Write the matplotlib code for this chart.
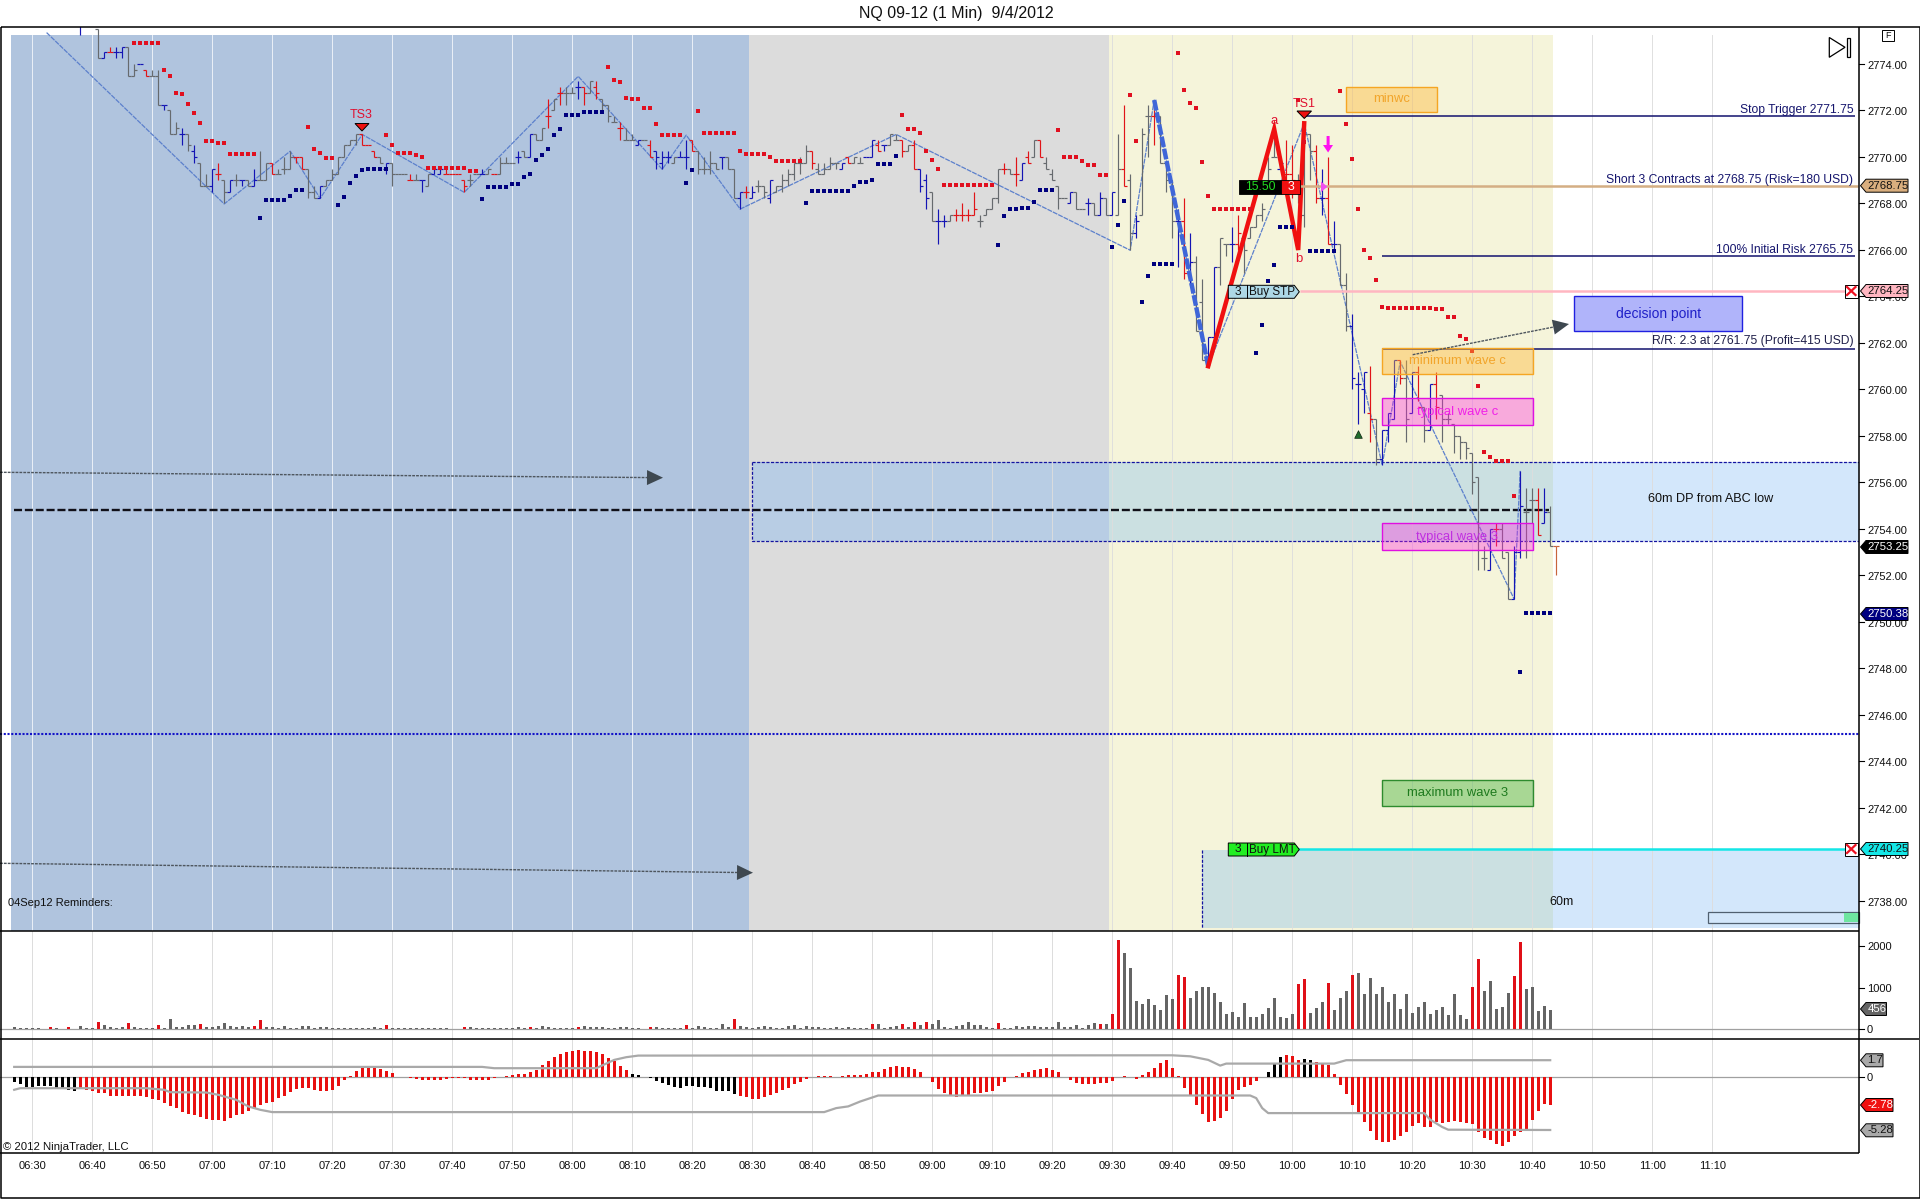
import numpy as np
import matplotlib
matplotlib.use("Agg")
import matplotlib.pyplot as plt
from matplotlib.collections import LineCollection
from matplotlib.patches import Rectangle, Polygon

plt.rcParams['font.family'] = ['Liberation Sans', 'DejaVu Sans']

PRICE_BASE = 2700
MIN0 = 390  # 06:30

tick_labels = ['06:30','06:40','06:50','07:00','07:10','07:20','07:30','07:40','07:50','08:00','08:10','08:20',
               '08:30','08:40','08:50','09:00','09:10','09:20','09:30','09:40','09:50','10:00','10:10','10:20',
               '10:30','10:40','10:50','11:00','11:10']
price_ticks = [2774,2772,2770,2768,2766,2764,2762,2760,2758,2756,2754,2752,2750,2748,2746,2744,2742,2740,2738]

bar_k = [8] + list(range(11, 255))
bar_open = [76,
 75.5,74.25,74.5,74.5,74.5,74.75,73.5,74,73.75,73.5,
 73.5,72.25,72,71,71,71,70.25,69.75,68.75,68.75,
 69.25,69,68.5,69,69,69,68.75,69,69,69.75,
 69.25,69.5,69.5,70,70,69.5,68.5,68.25,68.75,69,
 69.25,70,70.5,70.75,71,70.5,70.25,70,69.5,69.75,
 69.25,69.25,69,69,69,68.75,69.25,69.25,69.25,69.25,
 69.25,69,69,69.25,69.25,69.25,69.25,69.25,69.75,69.75,
 70,70.25,70,71,70.75,71.75,72,72.75,72.75,72.75,
 73,73,72.75,73,72.5,72.25,71.5,71.25,70.75,70.75,
 70.5,70.75,70.5,70.25,69.75,70,69.75,70,70,70.75,
 70.25,69.5,69.5,69.75,70,70,69.5,68.25,68.5,68.25,
 68.75,68.75,68.25,68.5,68.75,69,69.25,69.75,69.75,70.25,
 69.5,69.25,69.5,69.75,69.5,70,69.75,69.75,70,70,
 70.5,70.5,70.5,70.75,70.75,70.25,70.5,69.5,69,68.5,
 67.25,67.25,67.25,67.5,67.5,67.5,67.5,67.25,67.5,67.75,
 68.25,69.5,69.5,69.25,69,70,70,70.75,69.75,69.25,
 68.75,68.25,68,68.5,67.75,68,68,67.5,68.25,67.5,
 67.5,69.5,69,66.75,67.5,71.75,71.75,71.75,69.75,69,
 67.25,67.25,65,65.5,63.75,61.25,62.25,65.25,66.25,66.25,
 66.25,66.5,66.5,67,67.5,68.75,70,69.5,69.25,69.25,
 68.5,67.5,71,70.25,68.25,68.25,66.25,66.25,64.5,62.75,
 60.25,60,59,58.75,57,58.25,58.75,61.25,60.5,59,
 60.75,59.25,58.25,60.25,59.75,58.75,58.5,58,57.75,57.25,
 56.25,52.75,52.25,54,54,53,51,53,54.75,55.25,
 55.25,54.25,54.75,53.25]
bar_high = [76,
 75.5,74.5,74.75,74.75,74.75,74.75,74,74,73.75,73.75,
 73.75,72.25,72,71.5,71.25,71,70.5,69.75,69.25,69.5,
 69.75,69,69,69.25,69,69,69.5,70.25,69.75,69.75,
 69.5,70,70.25,70,70,69.5,68.75,68.75,69,69.5,
 70,70.5,70.75,71,71,70.5,70.25,70,69.75,69.75,
 69.25,69.25,69.25,69.25,69,69.25,69.5,69.5,69.5,69.25,
 69.25,69,69.25,69.25,69.5,69.5,69.25,70,70,69.75,
 70.25,70.25,71,71,71.25,72.5,72.5,73,73,73,
 73.25,73,73.25,73.25,72.5,72.25,71.75,71.5,71.25,71,
 70.75,70.75,70.75,70.25,70.25,70.25,70,70.25,70.75,70.75,
 70.25,70,70.25,69.75,70,70,69.5,68.5,68.75,68.75,
 69,68.75,69,68.75,69.25,69.5,69.75,70,70.5,70.25,
 69.75,69.75,70,69.75,69.75,70,70,70,70,70.75,
 70.75,70.5,71,71,70.75,70.5,70.75,69.5,69.25,68.5,
 67.75,67.5,67.5,67.75,68,67.75,68.5,67.5,67.75,68.25,
 69.5,69.75,69.5,70,69.75,70.25,70.75,70.75,70,69.5,
 68.75,68.25,68.5,68.5,67.75,68.25,68,68.5,68.25,68.5,
 71,72.25,69.25,67.5,71.25,72.25,72.25,71.75,69.75,69,
 67.75,68.25,66.75,65.75,64.75,62.25,65.25,66.5,66.25,67,
 67.5,66.5,67,67.5,68,70,71.25,70,70.75,70.5,
 69.25,71,71,70.5,69.5,70,67.25,66.25,65,63.25,
 60.75,60.75,61,58.75,58.25,59,61.25,61.25,61.25,60.75,
 61,59.25,60.25,60.75,59.75,59,58.5,58,57.75,57.25,
 56.25,53.25,54,54.25,54.25,53,53.25,56.5,55.75,55.75,
 55.75,55.75,55,53.25]
bar_low = [75.25,
 74.25,74.25,74.5,74.25,74.25,73.5,73.5,74,73.5,73.5,
 72.25,72,71,71,70.5,70.25,69.75,68.75,68.75,68.5,
 69,68,68.5,68.75,68.75,68.75,68.75,69,69,69.25,
 69.25,69.25,69.5,69.75,69.5,68.25,68.25,68.25,68.75,69,
 69.25,70,70.5,70.5,70.5,70.5,70,69.75,69.25,68.75,
 69.25,69.25,69,69,68.5,68.75,69.25,69.25,69.25,69.25,
 69.25,68.5,68.75,69.25,69.25,69.25,69.25,69.25,69.75,69.75,
 69.75,70,70,70.75,70.75,71.25,72,72.25,72.25,72.75,
 72.5,72.25,72.75,72.5,72,71.5,71.5,70.75,70.75,70.75,
 70.5,70.75,70,69.5,69.5,69.75,69.75,70,69.5,70.25,
 69.25,69.25,69.25,69.5,69.5,69.5,68.25,67.75,68.25,68.25,
 68.5,68.25,68,68.5,68.5,68.75,69,69.25,69.75,69.5,
 69.25,69.25,69.5,69.5,69.5,69.75,69.75,69.75,70,70,
 70.25,70.25,70.5,70.75,70,70.25,69.5,68.5,67.75,67.25,
 66.25,67,67.25,67.25,67.25,67.25,67.5,67,67.5,67.75,
 68,69.25,69.25,68.75,69,69.75,70,70,69.5,69,
 67.75,68.25,68,67.75,67.75,67.5,67.5,67.5,67.5,67.5,
 67.5,68.75,66,66.5,67.5,70,70.5,69.75,68.5,66.5,
 65.25,64.75,64.5,62.5,61.25,61,62.25,64.5,65.75,65.5,
 66,65,66.5,67,67.25,68.75,70,69.5,69,68.25,
 68,67,69,68,67.5,66.25,66,64.5,62.5,60,
 58.5,59,57.75,56.75,56.75,57.75,58.75,60.25,57.75,59,
 59.5,57.75,58.25,58.75,57.75,58.5,57.25,57,57,55.5,
 52.25,52.25,52.25,53.25,52.75,51,51,52.75,52.75,54.25,
 53.75,54.25,53.25,52]
bar_close = [76,
 74.25,74.5,74.5,74.5,74.75,73.5,73.75,74,73.5,73.5,
 72.25,72.25,71,71.25,71,70.5,70,68.75,68.75,69.5,
 69.25,68.5,69,69,69,68.75,69,69,69.75,69.25,
 69.25,69.5,70,70,69.5,68.5,68.25,68.75,69,69.25,
 70,70.5,70.75,71,70.5,70.5,70,69.75,69.75,69.25,
 69.25,69.25,69,69,69,69.25,69.5,69.5,69.25,69.25,
 69.25,68.75,69,69.25,69.25,69.5,69.25,69.75,69.75,69.75,
 70,70,71,70.75,71.25,71.75,72.5,72.75,72.75,72.75,
 73,72.75,73.25,72.75,72.25,71.75,71.5,71.25,70.75,70.75,
 70.75,70.75,70,70,70,70,70,70,70,70.25,
 69.5,69.5,69.75,69.5,70,69.5,68.25,68.5,68.5,68.5,
 68.75,68.5,69,68.75,69,69.25,69.75,69.75,70.25,69.75,
 69.25,69.5,69.75,69.75,69.75,69.75,70,69.75,70,70.75,
 70.25,70.5,71,70.75,70.25,70.5,69.5,68.75,68.25,67.25,
 67.25,67.25,67.5,67.5,67.5,67.5,67.75,67.25,67.75,68.25,
 69.5,69.5,69.25,69.25,69.75,69.75,70.75,70,69.5,69,
 68.25,68.25,68.5,67.75,67.75,68,67.5,68.25,67.5,68.5,
 69.5,68.75,66.75,67.25,71,71.75,71.75,69.75,69,67.25,
 67.25,65,65.5,62.5,61.25,62.25,65.25,66.5,66.25,66.25,
 66.75,66,67,67.5,67.75,69.5,70,69.75,69.25,69,
 68.5,71,70.25,68.25,68.25,66.25,66.25,64.5,62.75,60.5,
 60.25,60.75,58.75,57,58.25,59,61.25,60.5,58.75,60.75,
 59.25,58.25,60.25,59.25,58.75,58.75,58,57.75,57.5,56,
 54.25,52.75,54,54,52.75,51,53,55,54.75,55.25,
 53.75,54.75,53.25,53.25]
bar_kind = list('b' + 'gbrbbggbrg' 'gbggbgbggb' 'rgbgbgbggr' 'gggrrggbgg' 'ggggrrrgbg' 'ggrgbgbbrr'
                'rrggbgrggg' 'bgbggrgrgg' 'brgrgggrgg' 'bgrbbbgbbr' 'ggggbggbrb' 'ggbggggggr'
                'ggggbrggbb' 'rbggrgrbbg' 'bbgrrrrggg' 'grgrbrgrgg' 'ggbggbgbgb' 'grgbggrggg'
                'brbggbbggb' 'rggggggbrr' 'gggrbrbggb' 'bbrgbbbrgb' 'rgbrgggggg' 'ggbrggbbgg' 'rbgo')

sar_red_k = [17,18,19,20,21,22,23,24,25,26,27,28,29,30,31,32,33,34,35,36,37,46,47,48,49,50,59,60,61,62,63,64,65,
 66,67,68,69,70,71,72,73,74,96,97,98,99,100,101,102,103,104,105,106,107,108,111,112,113,114,115,116,117,118,
 119,120,121,122,123,124,125,126,127,128,145,146,147,148,149,150,151,152,153,154,155,156,157,158,159,160,
 171,172,173,174,175,176,177,178,179,183,184,191,192,193,194,195,196,197,198,199,200,201,202,203,211,212,
 218,219,220,221,222,223,224,225,226,227,228,229,230,231,232,233,234,235,236,237,238,239,240,241,242,243,
 244,245,246,247]
sar_red_p = [74.9,74.9,74.9,74.9,74.9,73.74,73.48,72.75,72.71,72.28,71.89,71.46,70.69,70.69,70.61,70.61,
 70.13,70.13,70.13,70.13,70.13,71.29,70.34,70.17,69.95,69.95,70.94,70.51,70.17,70.17,70.17,70.08,70,
 69.52,69.52,69.52,69.52,69.52,69.52,69.52,69.4,69.4,73.87,73.31,73.22,72.54,72.49,72.49,72.1,72.1,71.42,
 70.94,70.94,70.94,70.94,71.98,71.03,71.03,71.03,71.03,71.03,71.03,70.26,
 70.13,70.13,70.13,70.13,70,69.83,69.83,69.83,69.83,69.83,71.8,71.2,71.2,71.05,70.26,69.87,69.48,
 68.8,68.8,68.8,68.8,68.8,68.8,68.8,68.8,68.8,
 71.16,70,70,70,69.84,69.65,69.65,69.22,69.22,72.66,70.69,74.47,72.88,72.32,72.1,69.78,68.32,
 67.76,67.76,67.76,67.76,67.76,67.76,67.76,72.45,70.64,
 72.84,71.42,69.91,67.76,65.99,65.65,64.71,63.55,63.5,63.5,63.5,63.5,63.5,63.5,63.5,63.5,63.46,63.46,
 63.12,63.12,62.3,62.17,61.66,60.15,57.31,57.1,56.93,56.93,56.93,55.42]
sar_blue_k = [38,39,40,41,42,43,44,45,51,52,53,54,55,56,57,58,59,75,76,77,78,79,80,81,82,83,84,85,86,87,88,
 89,90,91,92,93,94,95,109,110,129,130,131,132,133,134,135,136,137,138,139,140,141,142,143,144,
 161,162,163,164,165,166,167,168,169,170,180,181,182,185,186,187,188,189,190,
 204,205,206,207,208,209,210,213,214,215,216,217,248,249,250,251,252,253]
sar_blue_p = [67.37,68.15,68.15,68.15,68.15,68.32,68.58,68.58,67.93,68.28,68.88,69.18,69.44,69.48,69.48,69.48,69.48,
 68.19,68.71,68.71,68.71,68.71,68.84,68.84,69.14,69.27,69.87,70.08,70.34,70.94,71.2,
 71.8,71.8,71.8,71.93,71.93,71.93,71.93,68.88,69.44,68.02,68.54,68.54,68.54,68.54,68.54,68.54,68.54,
 68.75,68.92,68.92,69.01,69.7,69.7,69.7,70.04,
 66.21,67.46,67.76,67.76,67.8,67.8,68.06,68.58,68.58,68.58,66.13,67.07,68.1,63.76,64.88,65.4,65.4,65.4,65.4,
 61.57,62.77,64.66,65.35,66.99,66.99,66.99,65.95,65.95,65.95,65.95,65.95,47.85,50.38,50.38,50.38,50.38,50.38]

zigzag_k = [2.4,32,43,48,55,72,91,105,109,118,144,183,187,196,212,225,228,247,248]
zigzag_p = [75.35,67.98,70.25,68.22,70.97,68.48,73.47,69.47,70.94,67.76,70.97,65.99,72.45,61,71.45,56.75,61.2,50.98,56.5]
wave_blue_k = [187,196]
wave_blue_p = [72.45,61]
wave_red_k = [196,207,211,212]
wave_red_p = [61,71.2,66,71.45]

volume = [65,25,25,40,25,15,50,30,15,50,15,70,30,25,175,95,50,40,50,150,45,30,25,25,100,30,245,50,65,110,95,125,55,65,90,145,70,55,90,50,
 90,220,65,65,35,90,20,30,70,70,40,65,50,40,40,40,40,35,40,35,65,30,100,40,30,30,40,25,25,25,20,20,20,5,10,50,45,35,30,30,
 35,30,30,30,45,30,50,40,70,45,40,40,35,30,50,70,45,65,50,40,30,50,50,30,30,
 10,45,45,40,30,25,25,100,20,70,50,40,25,125,50,245,90,50,40,50,70,50,35,40,90,110,30,85,50,45,40,40,50,40,50,40,40,30,
 130,125,30,50,90,125,50,165,110,170,125,215,50,40,90,95,165,110,95,50,30,145,40,25,90,50,90,90,65,65,65,170,50,50,100,40,100,150,130,130,
 370,2120,1830,1470,680,605,720,580,460,820,730,1300,1250,750,920,1020,1000,870,650,370,410,290,630,290,295,370,510,750,290,
 280,370,1090,1210,400,500,640,1110,470,750,920,1300,1350,850,1230,850,1000,640,830,490,850,390,540,660,370,470,540,350,850,340,250,
 1000,1670,920,1140,490,540,870,1260,2070,970,1020,440,560,456]
volume_red_k = [3,6,11,16,21,28,37,38,59,72,83,91,103,109,117,140,145,147,149,161,178,180,181,191,192,211,212,216,220,240,241,247,248]

indicator = [-.47,-.66,-.93,-.93,-.9,-.9,-.9,-1.06,-1.2,-1.26,-1.33,
 -1.2,-1.26,-1.4,-1.53,-1.6,-1.83,-1.83,-1.83,-1.83,-1.83,-1.86,-1.99,-2.13,-2.29,-2.59,-2.86,-3.09,-3.52,-3.65,-3.75,-3.99,-4.19,-4.25,-4.25,-4.35,
 -4.09,-3.75,-3.65,-3.42,-3.16,-2.79,-2.59,-2.43,-2.09,-1.83,-1.46,-1.16,-1.06,-1.03,-1.26,-1.36,-1.36,-1.26,-.83,-.3,
 .13,.63,.96,1.13,1.03,.83,.6,.43,.07,0,-.1,-.2,-.27,-.27,-.27,-.27,-.17,-.03,-.03,-.1,-.23,-.27,-.27,-.27,-.07,0,.13,.23,.3,.37,.53,.76,
 1.2,1.59,2.03,2.33,2.52,2.62,2.69,2.62,2.62,2.52,2.33,1.93,1.63,1.13,.73,.37,.2,
 .07,-.07,-.4,-.6,-.73,-.93,-1.03,-.83,-.83,-.93,-.93,-1.1,-1.33,-1.33,-1.33,-1.63,-1.83,-1.99,-2.16,-2.16,-1.96,-1.76,-1.6,-1.26,-1.03,-.66,-.47,-.2,
 0,.1,.1,.1,0,.1,.2,.2,.23,.37,.5,.56,.83,1.0,1.13,1.03,1.03,.83,.53,0,
 -.47,-1.16,-1.56,-1.83,-1.93,-1.83,-1.76,-1.6,-1.56,-1.5,-1.33,-.86,-.5,0,.1,.43,.53,.73,.83,.93,.73,.53,0,-.27,-.6,-.66,-.66,-.66,-.6,-.53,-.37,
 0,.1,0,-.13,.2,.53,.93,1.4,1.73,.93,.13,-1.06,-1.79,-2.76,-3.65,-4.45,-4.35,-4.09,-3.36,-2.16,-1.26,-.93,-.76,-.37,0,.56,1.3,2.0,
 2.23,2.13,1.73,1.83,1.73,1.5,1.46,1.2,.33,-.76,-1.63,-2.82,-3.72,-4.52,-5.42,-6.25,-6.45,-6.51,-6.31,-5.85,-5.45,-4.92,-4.62,-5.02,-4.98,
 -4.45,-4.58,-4.45,-4.35,-4.45,-4.58,-4.68,-5.45,-6.05,-6.31,-6.64,-6.84,-6.51,-5.91,-5.45,-5.18,-4.25,-3.42,-2.72,-2.78]
indicator_black_k = list(range(-3,8)) + list(range(100,118)) + [206,207,208,212,213]
upper_k = [-3,75,77,94,97,99,101,190,193,196,198,199,217,219,253]
upper_v = [1.03,1.03,.9,.9,1.73,2,2.16,2.19,2.09,1.73,1.16,1.36,1.36,1.7,1.7]
lower_k = [-3,-2,19,22,23,29,31,34,36,38,40,132,134,136,138,141,203,204,205,206,232,233,235,236,253]
lower_v = [-1.26,-1.1,-1.1,-1.26,-1.5,-1.53,-1.76,-2.26,-2.92,-3.26,-3.49,-3.49,-3.09,-2.92,-2.43,-1.83,-1.83,-2.09,-3.09,-3.59,-3.59,-4.25,-4.98,-5.25,-5.28]

level_stop = 2771.75
level_short = 2768.75
level_risk = 2765.75
level_buystop = 2764.25
level_target = 2761.75
level_buylimit = 2740.25
level_dash = 2754.82
level_dotted = 2745.2

assert len(bar_k)==len(bar_open)==len(bar_high)==len(bar_low)==len(bar_close)==len(bar_kind)
assert len(sar_red_k)==len(sar_red_p) and len(sar_blue_k)==len(sar_blue_p)
assert len(volume)==257 and len(indicator)==257

W, H = 1920, 1199
fig = plt.figure(figsize=(W/100, H/100), dpi=100, facecolor='white')

def px_axes(x0, y0, x1, y1, **kw):
    return fig.add_axes([x0/W, 1-y1/H, (x1-x0)/W, (y1-y0)/H], **kw)

def xm(px):      # pixel column to minute
    return MIN0 + (px-32.2)/6
def yp(py):      # pixel row to price
    return level_stop - (py-116.3)/23.25

XLIM = (xm(0), xm(1859))
ax = px_axes(0, 27, 1859, 931)
av = px_axes(0, 931, 1859, 1039)
ai = px_axes(0, 1039, 1859, 1153)
ov = fig.add_axes([0,0,1,1], zorder=10)
ov.set_xlim(0, W); ov.set_ylim(H, 0); ov.axis('off'); ov.patch.set_alpha(0)
ax.set_xlim(*XLIM); ax.set_ylim(yp(931), yp(27))
av.set_xlim(*XLIM); av.set_ylim(-232, 2344)
ai.set_xlim(*XLIM); ai.set_ylim(-7.58, 3.82)
for a in (ax, av, ai):
    a.axis('off')

tick_minutes = [MIN0 + 10*i for i in range(len(tick_labels))]

# --- background zones
def zone(a, x0, x1, y0, y1, color, z=0.5, **kw):
    a.add_patch(Rectangle((xm(x0), yp(y1)), xm(x1)-xm(x0), yp(y0)-yp(y1), facecolor=color, edgecolor='none', zorder=z, **kw))

zone(ax, 11, 749, 35, 931, '#B0C4DE')
zone(ax, 749, 1109, 35, 931, '#DCDCDC')
zone(ax, 1109, 1553, 35, 931, '#F5F4DA')
for x0, x1, c in [(752,1109,'#B8CDE4'), (1109,1553,'#CBE0E1'), (1553,1859,'#D3E7FB')]:
    zone(ax, x0, x1, 462.3, 541.3, c, z=0.6)
for x0, x1, c in [(1202,1553,'#CBE0E1'), (1553,1859,'#D3E7FB')]:
    zone(ax, x0, x1, 850, 928, c, z=0.6)

# grid
for m, lab in zip(tick_minutes, tick_labels):
    gc = '#EEF3F9' if m <= 500 else '#DDDDDD'
    ax.plot([m, m], [yp(931), yp(35)], color=gc, lw=0.65, zorder=1)
    av.axvline(m, color='#DCDCDC', lw=0.7, zorder=1)
    ai.axvline(m, color='#DCDCDC', lw=0.7, zorder=1)

# 60m box outlines
ax.plot([xm(752), xm(752), xm(1859)], [yp(462.3), yp(541.3), yp(541.3)], color='#1414A0', lw=0.9, ls=(0,(2.5,1.2)), zorder=2)
ax.plot([xm(752), xm(1859)], [yp(462.3), yp(462.3)], color='#1414A0', lw=0.9, ls=(0,(2.5,1.2)), zorder=2)
ax.plot([xm(1202), xm(1202)], [yp(850), yp(928)], color='#1414A0', lw=0.9, ls=(0,(2.5,1.2)), zorder=2)

# levels
ax.plot([xm(14), xm(1549)], [level_dash]*2, color='#101018', lw=1.7, ls=(0,(3.4,1.2)), zorder=2.2)
ax.plot([xm(0), xm(1859)], [level_dotted]*2, color='#1414C8', lw=1.5, ls=(0,(1,0.8)), zorder=2.2)

# zigzag
ax.plot(MIN0+np.array(zigzag_k), PRICE_BASE+np.array(zigzag_p), color='#5C80CC', lw=0.9, ls=(0,(4,0.8)), zorder=2.5)

# OHLC bars
colors = {'g':'#666A6E','b':'#1414B4','r':'#E01418','o':'#C8643C'}
segs, cols = [], []
for k, o, hi, lo, c, kd in zip(bar_k, bar_open, bar_high, bar_low, bar_close, bar_kind):
    m = MIN0 + k
    segs += [[(m, PRICE_BASE+lo), (m, PRICE_BASE+hi)],
             [(m-0.5, PRICE_BASE+o), (m, PRICE_BASE+o)],
             [(m, PRICE_BASE+c), (m+0.5, PRICE_BASE+c)]]
    cols += [colors[kd]]*3
ax.add_collection(LineCollection(segs, colors=cols, linewidths=0.85, zorder=3, capstyle='butt'))

# thick waves
ax.plot(MIN0+np.array(wave_blue_k), PRICE_BASE+np.array(wave_blue_p), color='#3F66D8', lw=3.2, ls=(0,(2.4,0.4)), zorder=4)
ax.plot(MIN0+np.array(wave_red_k), PRICE_BASE+np.array(wave_red_p), color='#F01010', lw=3.2, zorder=4, solid_joinstyle='miter')

# SAR dots
ax.scatter(MIN0+np.array(sar_red_k), PRICE_BASE+np.array(sar_red_p), marker='s', s=11, color='#E01020', linewidths=0, zorder=5)
ax.scatter(MIN0+np.array(sar_blue_k), PRICE_BASE+np.array(sar_blue_p), marker='s', s=11, color='#00007E', linewidths=0, zorder=5)

# horizontal trade lines
def hl(a, x0, x1, level, color, lw, z=4.5):
    a.plot([xm(x0), xm(x1)], [level, level], color=color, lw=lw, zorder=z, solid_capstyle='butt')
hl(ax, 1306, 1855, level_stop, '#12126E', 1.1)
hl(ax, 1300, 1858, level_short, '#D4AE84', 1.8)
hl(ax, 1382, 1855, level_risk, '#12126E', 1.1)
hl(ax, 1300, 1845, level_buystop, '#FFB6C1', 1.8)
hl(ax, 1382, 1855, level_target, '#12126E', 1.1)
hl(ax, 1298, 1845, level_buylimit, '#14E6E6', 1.8)
ax.scatter([MIN0+221], [2758.1], marker='^', s=30, color='#1F6B2A', edgecolors='#0C2010', linewidths=0.5, zorder=5)

# volume panel
vol_k = np.arange(-3, 254)
vc = ['#E01018' if k in volume_red_k else '#646464' for k in vol_k]
av.plot([xm(0), xm(1859)], [0, 0], color='#A0A0A0', lw=0.9, zorder=2)
av.bar(MIN0+vol_k, volume, width=0.5, color=vc, linewidth=0, zorder=3)

# indicator panel
ic = ['black' if k in indicator_black_k else '#E81010' for k in vol_k]
ai.plot([xm(0), xm(1859)], [0, 0], color='#A0A0A0', lw=0.9, zorder=2)
ai.bar(MIN0+vol_k, indicator, width=0.5, color=ic, linewidth=0, zorder=3)
ai.plot(MIN0+np.array(upper_k), upper_v, color='#A9A9A9', lw=1.6, zorder=4)
ai.plot(MIN0+np.array(lower_k), lower_v, color='#A9A9A9', lw=1.6, zorder=4)

# ----- overlay (annotations and chart furniture, in pixels)
TXT = 8.0
def rbox(x0, y0, x1, y1, fc, ec, alpha, label, tc, fs=9.4):
    ov.add_patch(Rectangle((x0, y0), x1-x0, y1-y0, facecolor=fc, edgecolor='none', alpha=alpha, zorder=2))
    ov.add_patch(Rectangle((x0, y0), x1-x0, y1-y0, facecolor='none', edgecolor=ec, lw=1.0, zorder=2))
    ov.text((x0+x1)/2, (y0+y1)/2, label, color=tc, ha='center', va='center', fontsize=fs, zorder=3)

rbox(1346, 87, 1436.7, 111.7, '#FFB733', '#F5A623', 0.42, 'minwc', '#F2A52B')
rbox(1382.3, 348, 1532.7, 374.3, '#FFB733', '#F5A623', 0.42, 'minimum wave c', '#F2A52B')
rbox(1382.3, 398.3, 1532.7, 425.3, '#FF20E0', '#E010E0', 0.35, 'typical wave c', '#F020E8')
rbox(1382.3, 523.3, 1532.7, 550.3, '#FF20E0', '#E010E0', 0.35, 'typical wave 3', '#C030E0')
rbox(1382.3, 780, 1532.7, 805.7, '#54B848', '#2E8B2E', 0.48, 'maximum wave 3', '#1E7A1E')
rbox(1574.3, 296.3, 1742.3, 331.3, '#B0B4FA', '#2020E0', 1.0, 'decision point', '#2020C8', 10)

# dashed arrows
def darrow(x0, y0, x1, y1):
    ang = np.arctan2(y1-y0, x1-x0)
    L = 16; hw = 7.5
    bx, by = x1-L*np.cos(ang), y1-L*np.sin(ang)
    nx, ny = -np.sin(ang), np.cos(ang)
    ov.plot([x0, bx], [y0, by], color='#4E565E', lw=1.0, ls=(0,(2,0.8)), zorder=3)
    ov.add_patch(Polygon([(x1,y1),(bx+nx*hw,by+ny*hw),(bx-nx*hw,by-ny*hw)], facecolor='#3E4850', edgecolor='none', zorder=3))
darrow(0, 472.3, 663, 477.7)
darrow(0, 863.3, 753, 872.7)
darrow(1412.7, 354.7, 1569, 324)

# right aligned notes
for y, s in [(110.3,'Stop Trigger 2771.75'), (180.3,'Short 3 Contracts at 2768.75 (Risk=180 USD)'),
             (250.3,'100% Initial Risk 2765.75'), (340.7,'R/R: 2.3 at 2761.75 (Profit=415 USD)')]:
    ov.text(1853.5, y, s, ha='right', va='center', fontsize=8.7, color='#16166E' if y < 300 else '#20204A', zorder=4)

ov.text(1711, 498.7, '60m DP from ABC low', ha='center', va='center', fontsize=9.1, color='#101010')
ov.text(1562, 901.7, '60m', ha='center', va='center', fontsize=9.0, color='#101010')
ov.text(7.7, 903.3, '04Sep12 Reminders:', ha='left', va='center', fontsize=8.05, color='#101010')
ov.text(3, 1147, '\u00a9 2012 NinjaTrader, LLC', ha='left', va='center', fontsize=8.2, color='#101010')
ov.text(956, 13.5, 'NQ 09-12 (1 Min)  9/4/2012', ha='center', va='center', fontsize=11.5, color='#101010')

# markers labels
ov.text(361.5, 115, 'TS3', color='#E01030', ha='center', va='center', fontsize=9, zorder=6)
ov.add_patch(Polygon([(355,123.5),(369,123.5),(362,131)], facecolor='#EE1010', edgecolor='black', lw=0.7, zorder=6))
ov.text(1304, 104, 'TS1', color='#E01030', ha='center', va='center', fontsize=9, zorder=6)
ov.add_patch(Polygon([(1297,111),(1311.5,111),(1304.3,118.5)], facecolor='#EE1010', edgecolor='black', lw=0.7, zorder=6))
ov.text(1274.3, 121, 'a', color='#E01030', ha='center', va='center', fontsize=9.5, zorder=6)
ov.text(1298.5, 259, 'b', color='#E01030', ha='center', va='center', fontsize=9.5, zorder=6)
# magenta arrows
ov.add_patch(Polygon([(1326.6,136),(1329.6,136),(1329.6,145),(1333,145),(1328.1,152.5),(1323,145),(1326.6,145)], facecolor='#FF10F0', edgecolor='none', zorder=6))
ov.add_patch(Polygon([(1321,181.5),(1327.5,186.7),(1321,192)], facecolor='#F050F0', edgecolor='none', zorder=6))

# order tags
ov.add_patch(Rectangle((1239,180), 42, 13.7, facecolor='black', edgecolor='black', lw=0.6, zorder=6))
ov.add_patch(Rectangle((1281,180), 19, 13.7, facecolor='#F01010', edgecolor='black', lw=0.6, zorder=6))
ov.text(1260, 187, '15.50', color='#22DD22', ha='center', va='center', fontsize=8.8, zorder=7)
ov.text(1290.5, 187, '3', color='white', ha='center', va='center', fontsize=8.8, zorder=7)

def order(y, fc, label):
    x0, xm_, x1 = 1228.3, 1247.3, 1299.3
    ov.add_patch(Polygon([(x0,y-6.5),(x1-5,y-6.5),(x1,y),(x1-5,y+6.5),(x0,y+6.5)], facecolor=fc, edgecolor='black', lw=0.7, zorder=6))
    ov.plot([xm_,xm_],[y-6.5,y+6.5], color='black', lw=0.7, zorder=7)
    ov.text((x0+xm_)/2, y, '3', color='#101010', ha='center', va='center', fontsize=8.6, zorder=7)
    ov.text(xm_+1.5, y, label, color='#101010', ha='left', va='center', fontsize=8.4, zorder=7)
order(291.8, '#ADD8E6', 'Buy STP')
order(849.5, '#22EE22', 'Buy LMT')

# right price axis
for p in price_ticks:
    y = 116.3 + (level_stop-p)*23.25
    ov.plot([1859,1864],[y,y], color='black', lw=0.8, zorder=2)
    ov.text(1867, y+2, '%.2f' % p, ha='left', va='center', fontsize=TXT, color='#101010', zorder=2)
for v, y in [(2000,945.7),(1000,987.7),(0,1029.3)]:
    ov.plot([1859,1864],[y,y], color='black', lw=0.8, zorder=2)
    ov.text(1867, y+1, str(v), ha='left', va='center', fontsize=TXT, color='#101010', zorder=2)
ov.plot([1859,1864],[1077.3,1077.3], color='black', lw=0.8, zorder=2)
ov.text(1867, 1078, '0', ha='left', va='center', fontsize=TXT, color='#101010', zorder=2)

def tag(y, label, fc, tc, right=1908):
    ov.add_patch(Polygon([(1860.5,y),(1866,y-6.5),(right,y-6.5),(right,y+6.5),(1866,y+6.5)], facecolor=fc, edgecolor='black', lw=0.7, zorder=6))
    ov.text((1866+right)/2+0.5, y, label, color=tc, ha='center', va='center', fontsize=TXT+0.2, zorder=7)
tag(185.7, '2768.75', '#D9AE7E', '#101010')
tag(291, '2764.25', '#FFB6C1', '#101010')
tag(547, '2753.25', '#000000', 'white')
tag(614, '2750.38', '#000080', 'white')
tag(849, '2740.25', '#14E6E6', '#101010')
tag(1009, '456', '#646464', 'white', 1886.5)
tag(1060.3, '1.7', '#A9A9A9', '#101010', 1883)
tag(1105, '-2.78', '#F01010', 'white', 1893)
tag(1130.3, '-5.28', '#A9A9A9', '#101010', 1893)

# red X close boxes
for y in (291, 849):
    ov.add_patch(Rectangle((1844.7,y-6.5), 13, 13, facecolor='white', edgecolor='black', lw=0.7, zorder=6))
    ov.plot([1847,1855.5],[y-4,y+4], color='#EE1020', lw=1.6, zorder=7)
    ov.plot([1847,1855.5],[y+4,y-4], color='#EE1020', lw=1.6, zorder=7)

# F box and play icon
ov.add_patch(Rectangle((1882.3,29.7), 12, 11.3, facecolor='white', edgecolor='black', lw=0.7))
ov.text(1888.3, 35.5, 'F', ha='center', va='center', fontsize=6.5, color='#101010')
ov.add_patch(Polygon([(1829.3,37.5),(1845,47.3),(1829.3,57.3)], facecolor='none', edgecolor='black', lw=0.9))
ov.add_patch(Rectangle((1846.5,37.5), 3.2, 19.8, facecolor='none', edgecolor='black', lw=0.9))

# scrollbar
ov.add_patch(Rectangle((1708.3,912.3), 150.7, 10.4, facecolor='#D3E7FB', edgecolor='#506070', lw=0.9, zorder=3))
ov.add_patch(Rectangle((1844,912.8), 15, 9.6, facecolor='#6EE6A0', edgecolor='none', zorder=3))

# time axis
for m, lab in zip(tick_minutes, tick_labels):
    x = 32.2 + (m-MIN0)*6
    ov.text(x, 1166, lab, ha='center', va='center', fontsize=TXT, color='#101010')

# frame lines
fk = dict(color='black', lw=1.1, zorder=8, solid_capstyle='butt')
ov.plot([0.5,1919.5,1919.5,0.5,0.5],[27,27,1198,1198,27], **fk)
ov.plot([0,1859],[931.3,931.3], **fk)
ov.plot([0,1919],[1039,1039], **fk)
ov.plot([0,1859],[1153.3,1153.3], **fk)
ov.plot([1859,1859],[27,1153.3], **fk)

fig.savefig('out.png', dpi=100, facecolor='white')
